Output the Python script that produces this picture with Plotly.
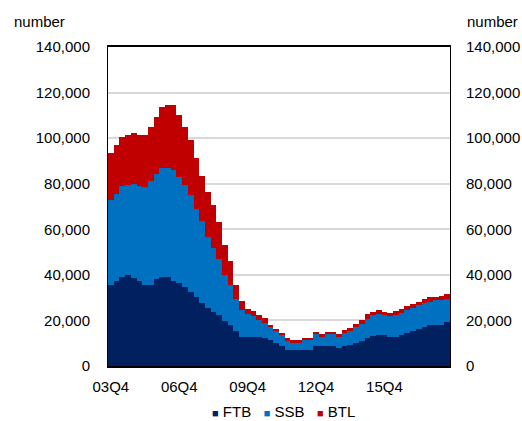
import plotly.graph_objects as go

# Quarterly categories 03Q4 .. 18Q3
quarters = []
y, q = 3, 4
for _ in range(60):
    quarters.append(f"{y:02d}Q{q}")
    q += 1
    if q > 4:
        q = 1
        y += 1

tick_labels = ["03Q4", "06Q4", "09Q4", "12Q4", "15Q4"]
series_names = ["FTB", "SSB", "BTL"]
series_colors = ["#002060", "#0070C0", "#C00000"]

# Cumulative tops (thousands)
ftb_top = [35.5, 37.2, 39.1, 39.8, 38.8, 37.2, 35.5, 35.5, 38.2, 38.9,
           38.9, 37.2, 36.5, 34.8, 32.6, 30.3, 27.5, 25.5, 23.5, 22.2,
           19.8, 18.0, 15.4, 12.9, 12.9, 12.9, 12.9, 12.1, 11.3, 10.0,
           8.9, 7.0, 7.0, 7.0, 7.0, 7.0, 8.7, 8.7, 8.7, 8.6,
           7.7, 8.6, 9.3, 10.0, 11.0, 12.3, 13.3, 13.7, 13.7, 12.9,
           12.9, 13.6, 14.5, 15.4, 16.3, 17.2, 17.8, 18.1, 18.2, 19.2]
ssb_top = [72.8, 75.5, 79.0, 79.6, 80.0, 79.1, 78.4, 81.0, 84.2, 86.8,
           87.0, 85.9, 82.8, 79.3, 74.9, 68.9, 63.6, 56.7, 52.0, 47.0,
           40.1, 35.5, 29.2, 24.4, 22.7, 21.9, 20.1, 18.8, 17.2, 15.4,
           13.5, 11.3, 10.5, 10.5, 11.2, 11.2, 13.9, 12.9, 13.9, 14.0,
           12.9, 14.7, 15.5, 17.1, 18.6, 20.8, 22.5, 22.7, 22.2, 21.9,
           22.3, 23.4, 24.5, 25.6, 26.6, 27.5, 28.3, 28.8, 29.0, 29.5]
btl_top = [93.6, 97.1, 100.5, 101.6, 102.4, 101.6, 101.6, 105.1, 109.5, 113.7,
           114.6, 114.6, 110.3, 105.1, 99.0, 91.3, 83.4, 76.4, 70.5, 63.3,
           52.9, 45.9, 35.4, 28.7, 24.9, 24.1, 22.4, 20.9, 18.2, 16.4,
           14.7, 12.1, 11.2, 11.2, 12.1, 12.1, 14.9, 13.9, 14.9, 15.0,
           14.0, 15.7, 16.7, 18.3, 20.1, 22.7, 23.8, 24.5, 23.6, 23.4,
           24.0, 25.1, 26.2, 27.2, 28.3, 29.2, 30.1, 30.5, 30.8, 31.5]

ftb = [round(a * 1000) for a in ftb_top]
ssb = [round((b - a) * 1000) for a, b in zip(ftb_top, ssb_top)]
btl = [round((c - b) * 1000) for b, c in zip(ssb_top, btl_top)]

FONT = "Liberation Sans, Arial, sans-serif"
FS = 15

fig = go.Figure()
for name, vals, col in zip(series_names, [ftb, ssb, btl], series_colors):
    fig.add_trace(go.Bar(x=quarters, y=vals, name=name,
                         marker=dict(color=col, line=dict(width=0))))
# invisible trace so the right axis is drawn
fig.add_trace(go.Bar(x=quarters, y=[0] * len(quarters), yaxis="y2",
                     showlegend=False, hoverinfo="skip", marker=dict(opacity=0)))

tick_fmt = dict(range=[0, 140000], tickvals=list(range(0, 140001, 20000)),
                tickformat=",", tickfont=dict(family=FONT, size=FS, color="#000"),
                automargin=False)

legend_text = "&nbsp;&nbsp;&nbsp;".join(
    f"<span style='color:{c}; font-size:11px'>■</span> {n}"
    for n, c in zip(series_names, series_colors))

fig.update_layout(
    barmode="stack", bargap=0, showlegend=False,
    width=522, height=421,
    margin=dict(l=108, r=72, t=47, b=55, autoexpand=False),
    paper_bgcolor="white", plot_bgcolor="white",
    font=dict(family=FONT, size=FS, color="#000"),
    xaxis=dict(type="category", range=[-0.5, 59.5], tickmode="array",
               tickvals=tick_labels, ticktext=tick_labels, automargin=False,
               showline=True, linecolor="#000", linewidth=2, mirror=True, ticks="",
               ticklabelstandoff=6,
               showgrid=False, tickfont=dict(family=FONT, size=FS, color="#000")),
    yaxis=dict(**tick_fmt, showgrid=True, gridcolor="#D9D9D9", gridwidth=1.5,
               showline=True, linecolor="#000", linewidth=1, mirror=True, ticks="",
               ticklabelstandoff=14, zeroline=False),
    yaxis2=dict(**tick_fmt, overlaying="y", side="right", showgrid=False, showline=False,
                ticks="", ticklabelstandoff=15, zeroline=False),
    annotations=[
        dict(text="number", xref="paper", yref="paper", x=-0.282, y=1.08, xanchor="left",
             yanchor="middle", showarrow=False, font=dict(family=FONT, size=FS)),
        dict(text="number", xref="paper", yref="paper", x=1.044, y=1.08, xanchor="left",
             yanchor="middle", showarrow=False, font=dict(family=FONT, size=FS)),
        dict(text=legend_text, xref="paper", yref="paper", x=0.512, y=-0.142,
             xanchor="center", yanchor="middle", showarrow=False,
             font=dict(family=FONT, size=FS)),
    ],
)

fig.write_html("out.html", config={"displayModeBar": False},
               post_script="document.body.style.margin='0';document.body.style.padding='0';")
